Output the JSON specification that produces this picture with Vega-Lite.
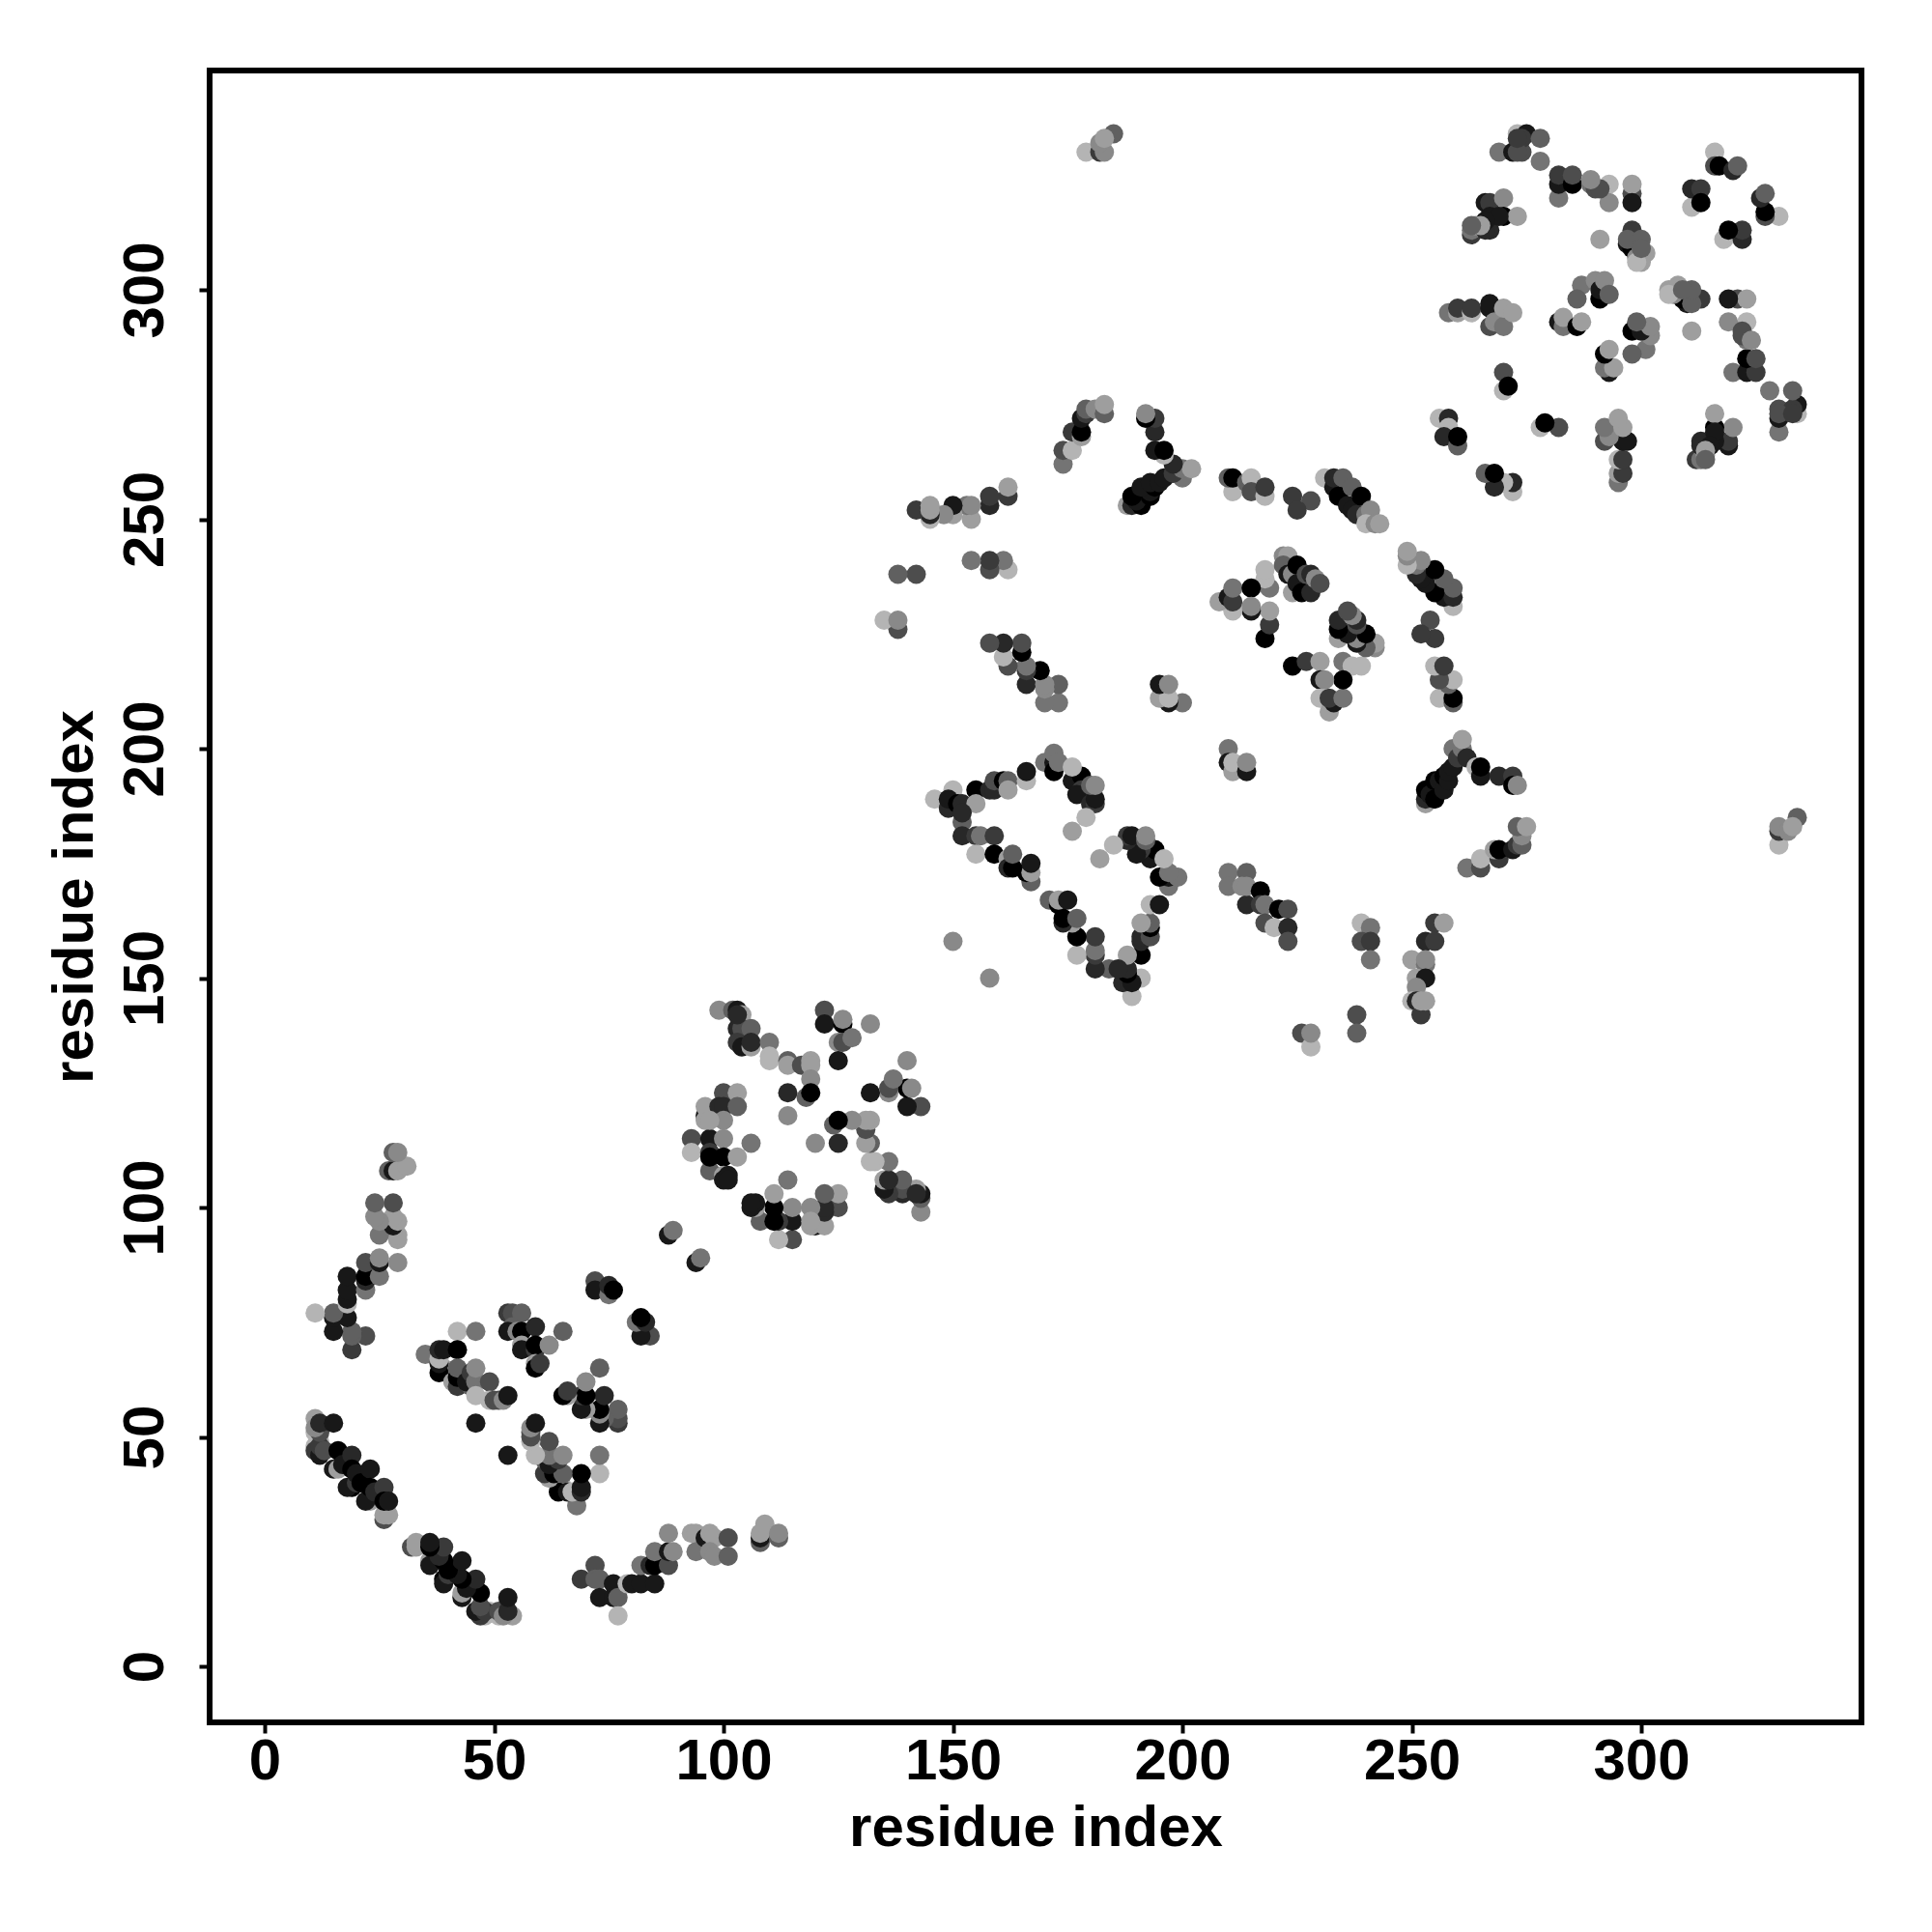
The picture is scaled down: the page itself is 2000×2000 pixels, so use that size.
{"$schema":"https://vega.github.io/schema/vega-lite/v6.json","width":1710,"height":1710,"autosize":{"type":"none"},"padding":{"left":217,"top":73,"right":72,"bottom":217},"background":"white","view":{"stroke":"#000","strokeWidth":6},"config":{"axis":{"grid":false,"domain":false,"tickColor":"#000","tickWidth":4,"tickSize":11,"labelColor":"#000","titleColor":"#000","labelFont":"Liberation Sans","titleFont":"Liberation Sans","labelFontWeight":"bold","titleFontWeight":"bold","labelFontSize":60,"titleFontSize":60}},"data":{"values":[
{"i":11,"j":54,"d":8},{"i":54,"j":11,"d":8},{"i":11,"j":51,"d":9},{"i":51,"j":11,"d":9},{"i":12,"j":49,"d":9},{"i":49,"j":12,"d":9},{"i":11,"j":48,"d":9},{"i":48,"j":11,"d":9},{"i":11,"j":47,"d":3},{"i":47,"j":11,"d":3},{"i":12,"j":46,"d":1},{"i":46,"j":12,"d":1},{"i":12,"j":48,"d":3},{"i":48,"j":12,"d":3},{"i":13,"j":47,"d":4},{"i":47,"j":13,"d":4},{"i":12,"j":51,"d":4},{"i":51,"j":12,"d":4},{"i":11,"j":52,"d":7},{"i":52,"j":11,"d":7},{"i":12,"j":53,"d":2},{"i":53,"j":12,"d":2},{"i":15,"j":53,"d":1},{"i":53,"j":15,"d":1},{"i":16,"j":47,"d":0},{"i":47,"j":16,"d":0},{"i":15,"j":43,"d":1},{"i":43,"j":15,"d":1},{"i":16,"j":43,"d":8},{"i":43,"j":16,"d":8},{"i":17,"j":44,"d":1},{"i":44,"j":17,"d":1},{"i":19,"j":46,"d":2},{"i":46,"j":19,"d":2},{"i":19,"j":39,"d":0},{"i":39,"j":19,"d":0},{"i":18,"j":39,"d":1},{"i":39,"j":18,"d":1},{"i":20,"j":40,"d":3},{"i":40,"j":20,"d":3},{"i":19,"j":43,"d":0},{"i":43,"j":19,"d":0},{"i":20,"j":42,"d":1},{"i":42,"j":20,"d":1},{"i":21,"j":40,"d":0},{"i":40,"j":21,"d":0},{"i":23,"j":43,"d":1},{"i":43,"j":23,"d":1},{"i":23,"j":36,"d":8},{"i":36,"j":23,"d":8},{"i":22,"j":36,"d":1},{"i":36,"j":22,"d":1},{"i":23,"j":39,"d":0},{"i":39,"j":23,"d":0},{"i":24,"j":38,"d":2},{"i":38,"j":24,"d":2},{"i":26,"j":39,"d":3},{"i":39,"j":26,"d":3},{"i":26,"j":32,"d":4},{"i":32,"j":26,"d":4},{"i":26,"j":33,"d":8},{"i":33,"j":26,"d":8},{"i":27,"j":33,"d":8},{"i":33,"j":27,"d":8},{"i":26,"j":36,"d":0},{"i":36,"j":26,"d":0},{"i":27,"j":36,"d":1},{"i":36,"j":27,"d":1},
{"i":22,"j":72,"d":4},{"i":72,"j":22,"d":4},{"i":19,"j":69,"d":3},{"i":69,"j":19,"d":3},{"i":19,"j":72,"d":5},{"i":72,"j":19,"d":5},{"i":19,"j":73,"d":5},{"i":73,"j":19,"d":5},{"i":18,"j":76,"d":1},{"i":76,"j":18,"d":1},{"i":15,"j":73,"d":1},{"i":73,"j":15,"d":1},{"i":15,"j":76,"d":1},{"i":76,"j":15,"d":1},{"i":15,"j":77,"d":5},{"i":77,"j":15,"d":5},{"i":11,"j":77,"d":9},{"i":77,"j":11,"d":9},{"i":18,"j":79,"d":9},{"i":79,"j":18,"d":9},{"i":18,"j":80,"d":1},{"i":80,"j":18,"d":1},{"i":18,"j":82,"d":1},{"i":82,"j":18,"d":1},{"i":18,"j":85,"d":1},{"i":85,"j":18,"d":1},{"i":22,"j":82,"d":6},{"i":82,"j":22,"d":6},{"i":22,"j":84,"d":2},{"i":84,"j":22,"d":2},{"i":22,"j":85,"d":0},{"i":85,"j":22,"d":0},{"i":22,"j":88,"d":4},{"i":88,"j":22,"d":4},{"i":25,"j":85,"d":6},{"i":85,"j":25,"d":6},{"i":25,"j":88,"d":1},{"i":88,"j":25,"d":1},{"i":25,"j":89,"d":7},{"i":89,"j":25,"d":7},{"i":29,"j":88,"d":7},{"i":88,"j":29,"d":7},{"i":29,"j":93,"d":8},{"i":93,"j":29,"d":8},{"i":29,"j":94,"d":8},{"i":94,"j":29,"d":8},{"i":25,"j":94,"d":6},{"i":94,"j":25,"d":6},{"i":28,"j":96,"d":1},{"i":96,"j":28,"d":1},{"i":29,"j":97,"d":8},{"i":97,"j":29,"d":8},{"i":28,"j":98,"d":8},{"i":98,"j":28,"d":8},{"i":25,"j":97,"d":7},{"i":97,"j":25,"d":7},{"i":24,"j":98,"d":7},{"i":98,"j":24,"d":7},{"i":28,"j":101,"d":4},{"i":101,"j":28,"d":4},{"i":24,"j":101,"d":5},{"i":101,"j":24,"d":5},{"i":27,"j":108,"d":5},{"i":108,"j":27,"d":5},{"i":28,"j":108,"d":1},{"i":108,"j":28,"d":1},{"i":29,"j":108,"d":8},{"i":108,"j":29,"d":8},{"i":31,"j":109,"d":8},{"i":109,"j":31,"d":8},{"i":28,"j":112,"d":5},{"i":112,"j":28,"d":5},{"i":29,"j":112,"d":7},{"i":112,"j":29,"d":7},
{"i":42,"j":73,"d":9},{"i":73,"j":42,"d":9},{"i":46,"j":73,"d":6},{"i":73,"j":46,"d":6},{"i":35,"j":68,"d":6},{"i":68,"j":35,"d":6},{"i":39,"j":65,"d":9},{"i":65,"j":39,"d":9},{"i":38,"j":64,"d":0},{"i":64,"j":38,"d":0},{"i":38,"j":66,"d":1},{"i":66,"j":38,"d":1},{"i":38,"j":67,"d":9},{"i":67,"j":38,"d":9},{"i":38,"j":69,"d":2},{"i":69,"j":38,"d":2},{"i":39,"j":69,"d":1},{"i":69,"j":39,"d":1},{"i":42,"j":69,"d":0},{"i":69,"j":42,"d":0},{"i":41,"j":62,"d":8},{"i":62,"j":41,"d":8},{"i":42,"j":61,"d":3},{"i":61,"j":42,"d":3},{"i":42,"j":63,"d":0},{"i":63,"j":42,"d":0},{"i":42,"j":65,"d":5},{"i":65,"j":42,"d":5},{"i":45,"j":61,"d":5},{"i":61,"j":45,"d":5},{"i":44,"j":62,"d":1},{"i":62,"j":44,"d":1},{"i":45,"j":64,"d":3},{"i":64,"j":45,"d":3},{"i":46,"j":62,"d":6},{"i":62,"j":46,"d":6},{"i":46,"j":65,"d":7},{"i":65,"j":46,"d":7},{"i":49,"j":62,"d":4},{"i":62,"j":49,"d":4},{"i":46,"j":59,"d":9},{"i":59,"j":46,"d":9},{"i":49,"j":58,"d":9},{"i":58,"j":49,"d":9},{"i":50,"j":58,"d":4},{"i":58,"j":50,"d":4},{"i":51,"j":58,"d":4},{"i":58,"j":51,"d":4},{"i":52,"j":58,"d":7},{"i":58,"j":52,"d":7},{"i":53,"j":59,"d":1},{"i":59,"j":53,"d":1},{"i":46,"j":53,"d":1},{"i":53,"j":46,"d":1},
{"i":53,"j":77,"d":3},{"i":77,"j":53,"d":3},{"i":54,"j":77,"d":4},{"i":77,"j":54,"d":4},{"i":56,"j":77,"d":5},{"i":77,"j":56,"d":5},{"i":54,"j":74,"d":5},{"i":74,"j":54,"d":5},{"i":53,"j":73,"d":1},{"i":73,"j":53,"d":1},{"i":55,"j":73,"d":7},{"i":73,"j":55,"d":7},{"i":56,"j":73,"d":0},{"i":73,"j":56,"d":0},{"i":59,"j":74,"d":2},{"i":74,"j":59,"d":2},{"i":65,"j":73,"d":5},{"i":73,"j":65,"d":5},{"i":56,"j":70,"d":8},{"i":70,"j":56,"d":8},{"i":56,"j":69,"d":1},{"i":69,"j":56,"d":1},{"i":59,"j":69,"d":3},{"i":69,"j":59,"d":3},{"i":59,"j":70,"d":0},{"i":70,"j":59,"d":0},{"i":62,"j":70,"d":7},{"i":70,"j":62,"d":7},{"i":59,"j":66,"d":8},{"i":66,"j":59,"d":8},{"i":59,"j":65,"d":0},{"i":65,"j":59,"d":0},{"i":60,"j":66,"d":3},{"i":66,"j":60,"d":3},
{"i":72,"j":84,"d":4},{"i":84,"j":72,"d":4},{"i":72,"j":82,"d":1},{"i":82,"j":72,"d":1},{"i":75,"j":81,"d":6},{"i":81,"j":75,"d":6},{"i":75,"j":83,"d":2},{"i":83,"j":75,"d":2},{"i":76,"j":82,"d":0},{"i":82,"j":76,"d":0},{"i":88,"j":94,"d":1},{"i":94,"j":88,"d":1},{"i":89,"j":95,"d":6},{"i":95,"j":89,"d":6},
{"i":99,"j":143,"d":7},{"i":143,"j":99,"d":7},{"i":102,"j":143,"d":5},{"i":143,"j":102,"d":5},{"i":103,"j":143,"d":1},{"i":143,"j":103,"d":1},{"i":104,"j":142,"d":8},{"i":142,"j":104,"d":8},{"i":103,"j":139,"d":2},{"i":139,"j":103,"d":2},{"i":104,"j":139,"d":4},{"i":139,"j":104,"d":4},{"i":106,"j":139,"d":5},{"i":139,"j":106,"d":5},{"i":103,"j":136,"d":3},{"i":136,"j":103,"d":3},{"i":104,"j":135,"d":1},{"i":135,"j":104,"d":1},{"i":106,"j":135,"d":8},{"i":135,"j":106,"d":8},{"i":106,"j":136,"d":2},{"i":136,"j":106,"d":2},{"i":110,"j":136,"d":6},{"i":136,"j":110,"d":6},{"i":110,"j":133,"d":9},{"i":133,"j":110,"d":9},{"i":110,"j":132,"d":9},{"i":132,"j":110,"d":9},{"i":114,"j":132,"d":5},{"i":132,"j":114,"d":5},{"i":114,"j":131,"d":8},{"i":131,"j":114,"d":8},{"i":117,"j":131,"d":4},{"i":131,"j":117,"d":4},{"i":119,"j":132,"d":8},{"i":132,"j":119,"d":8},{"i":119,"j":131,"d":8},{"i":131,"j":119,"d":8},{"i":119,"j":128,"d":7},{"i":128,"j":119,"d":7},{"i":114,"j":125,"d":2},{"i":125,"j":114,"d":2},{"i":118,"j":124,"d":5},{"i":124,"j":118,"d":5},{"i":119,"j":125,"d":0},{"i":125,"j":119,"d":0},{"i":114,"j":120,"d":7},{"i":120,"j":114,"d":7},{"i":100,"j":125,"d":4},{"i":125,"j":100,"d":4},{"i":103,"j":125,"d":8},{"i":125,"j":103,"d":8},{"i":96,"j":120,"d":1},{"i":120,"j":96,"d":1},{"i":96,"j":119,"d":8},{"i":119,"j":96,"d":8},{"i":96,"j":122,"d":8},{"i":122,"j":96,"d":8},{"i":99,"j":122,"d":2},{"i":122,"j":99,"d":2},{"i":100,"j":122,"d":2},{"i":122,"j":100,"d":2},{"i":103,"j":122,"d":5},{"i":122,"j":103,"d":5},{"i":100,"j":119,"d":7},{"i":119,"j":100,"d":7},{"i":93,"j":115,"d":4},{"i":115,"j":93,"d":4},{"i":97,"j":115,"d":1},{"i":115,"j":97,"d":1},{"i":100,"j":115,"d":7},{"i":115,"j":100,"d":7},{"i":106,"j":114,"d":6},{"i":114,"j":106,"d":6},{"i":93,"j":112,"d":9},{"i":112,"j":93,"d":9},{"i":97,"j":112,"d":3},{"i":112,"j":97,"d":3},{"i":100,"j":111,"d":0},{"i":111,"j":100,"d":0},{"i":103,"j":111,"d":8},{"i":111,"j":103,"d":8},{"i":97,"j":108,"d":5},{"i":108,"j":97,"d":5},{"i":100,"j":107,"d":8},{"i":107,"j":100,"d":8},{"i":100,"j":106,"d":1},{"i":106,"j":100,"d":1},{"i":101,"j":107,"d":1},{"i":107,"j":101,"d":1},{"i":101,"j":106,"d":1},{"i":106,"j":101,"d":1},
{"i":122,"j":143,"d":4},{"i":143,"j":122,"d":4},{"i":122,"j":140,"d":1},{"i":140,"j":122,"d":1},{"i":126,"j":140,"d":0},{"i":140,"j":126,"d":0},{"i":126,"j":141,"d":7},{"i":141,"j":126,"d":7},{"i":132,"j":140,"d":7},{"i":140,"j":132,"d":7},{"i":125,"j":136,"d":7},{"i":136,"j":125,"d":7},{"i":126,"j":136,"d":4},{"i":136,"j":126,"d":4},{"i":128,"j":137,"d":6},{"i":137,"j":128,"d":6},{"i":125,"j":132,"d":1},{"i":132,"j":125,"d":1},{"i":103,"j":142,"d":2},{"i":142,"j":103,"d":2},{"i":97,"j":111,"d":0},{"i":111,"j":97,"d":0},{"i":97,"j":119,"d":8},{"i":119,"j":97,"d":8},
{"i":146,"j":189,"d":9},{"i":189,"j":146,"d":9},{"i":150,"j":191,"d":9},{"i":191,"j":150,"d":9},{"i":149,"j":187,"d":2},{"i":187,"j":149,"d":2},{"i":149,"j":189,"d":1},{"i":189,"j":149,"d":1},{"i":151,"j":188,"d":0},{"i":188,"j":151,"d":0},{"i":152,"j":188,"d":2},{"i":188,"j":152,"d":2},{"i":155,"j":191,"d":0},{"i":191,"j":155,"d":0},{"i":155,"j":188,"d":8},{"i":188,"j":155,"d":8},{"i":158,"j":191,"d":2},{"i":191,"j":158,"d":2},{"i":159,"j":191,"d":2},{"i":191,"j":159,"d":2},{"i":159,"j":193,"d":4},{"i":193,"j":159,"d":4},{"i":161,"j":193,"d":0},{"i":193,"j":161,"d":0},{"i":162,"j":193,"d":5},{"i":193,"j":162,"d":5},{"i":162,"j":191,"d":8},{"i":191,"j":162,"d":8},{"i":166,"j":193,"d":9},{"i":193,"j":166,"d":9},{"i":166,"j":195,"d":1},{"i":195,"j":166,"d":1},{"i":152,"j":184,"d":5},{"i":184,"j":152,"d":5},{"i":152,"j":186,"d":2},{"i":186,"j":152,"d":2},{"i":152,"j":181,"d":2},{"i":181,"j":152,"d":2},{"i":155,"j":181,"d":3},{"i":181,"j":155,"d":3},{"i":156,"j":181,"d":6},{"i":181,"j":156,"d":6},{"i":159,"j":181,"d":3},{"i":181,"j":159,"d":3},{"i":155,"j":177,"d":9},{"i":177,"j":155,"d":9},{"i":159,"j":177,"d":0},{"i":177,"j":159,"d":0},{"i":162,"j":176,"d":8},{"i":176,"j":162,"d":8},{"i":162,"j":174,"d":2},{"i":174,"j":162,"d":2},{"i":163,"j":174,"d":0},{"i":174,"j":163,"d":0},{"i":163,"j":177,"d":5},{"i":177,"j":163,"d":5},{"i":167,"j":171,"d":5},{"i":171,"j":167,"d":5},{"i":166,"j":173,"d":0},{"i":173,"j":166,"d":0},{"i":167,"j":173,"d":8},{"i":173,"j":167,"d":8},{"i":167,"j":175,"d":1},{"i":175,"j":167,"d":1},{"i":150,"j":158,"d":7},{"i":158,"j":150,"d":7},
{"i":170,"j":197,"d":6},{"i":197,"j":170,"d":6},{"i":172,"j":197,"d":1},{"i":197,"j":172,"d":1},{"i":172,"j":195,"d":0},{"i":195,"j":172,"d":0},{"i":172,"j":199,"d":6},{"i":199,"j":172,"d":6},{"i":173,"j":197,"d":6},{"i":197,"j":173,"d":6},{"i":176,"j":193,"d":1},{"i":193,"j":176,"d":1},{"i":178,"j":194,"d":0},{"i":194,"j":178,"d":0},{"i":176,"j":196,"d":9},{"i":196,"j":176,"d":9},{"i":178,"j":191,"d":3},{"i":191,"j":178,"d":3},{"i":177,"j":190,"d":1},{"i":190,"j":177,"d":1},{"i":180,"j":188,"d":2},{"i":188,"j":180,"d":2},{"i":181,"j":188,"d":3},{"i":188,"j":181,"d":3},{"i":181,"j":189,"d":1},{"i":189,"j":181,"d":1},{"i":180,"j":192,"d":5},{"i":192,"j":180,"d":5},{"i":181,"j":192,"d":7},{"i":192,"j":181,"d":7},{"i":179,"j":185,"d":9},{"i":185,"j":179,"d":9},{"i":176,"j":182,"d":8},{"i":182,"j":176,"d":8},
{"i":179,"j":330,"d":9},{"i":330,"j":179,"d":9},{"i":182,"j":330,"d":3},{"i":330,"j":182,"d":3},{"i":183,"j":330,"d":7},{"i":330,"j":183,"d":7},{"i":182,"j":332,"d":7},{"i":332,"j":182,"d":7},{"i":185,"j":334,"d":5},{"i":334,"j":185,"d":5},{"i":183,"j":333,"d":8},{"i":333,"j":183,"d":8},
{"i":200,"j":210,"d":6},{"i":210,"j":200,"d":6},{"i":197,"j":210,"d":1},{"i":210,"j":197,"d":1},{"i":195,"j":211,"d":8},{"i":211,"j":195,"d":8},{"i":197,"j":211,"d":9},{"i":211,"j":197,"d":9},{"i":195,"j":214,"d":1},{"i":214,"j":195,"d":1},{"i":197,"j":214,"d":7},{"i":214,"j":197,"d":7},
{"i":173,"j":210,"d":6},{"i":210,"j":173,"d":6},{"i":173,"j":214,"d":5},{"i":214,"j":173,"d":5},{"i":170,"j":210,"d":6},{"i":210,"j":170,"d":6},{"i":166,"j":214,"d":2},{"i":214,"j":166,"d":2},{"i":170,"j":213,"d":7},{"i":213,"j":170,"d":7},{"i":170,"j":214,"d":7},{"i":214,"j":170,"d":7},{"i":169,"j":217,"d":0},{"i":217,"j":169,"d":0},{"i":166,"j":217,"d":3},{"i":217,"j":166,"d":3},{"i":166,"j":218,"d":6},{"i":218,"j":166,"d":6},{"i":162,"j":218,"d":4},{"i":218,"j":162,"d":4},{"i":161,"j":220,"d":9},{"i":220,"j":161,"d":9},{"i":165,"j":221,"d":0},{"i":221,"j":165,"d":0},{"i":165,"j":223,"d":4},{"i":223,"j":165,"d":4},{"i":161,"j":223,"d":2},{"i":223,"j":161,"d":2},{"i":158,"j":223,"d":4},{"i":223,"j":158,"d":4},
{"i":162,"j":239,"d":9},{"i":239,"j":162,"d":9},{"i":161,"j":241,"d":6},{"i":241,"j":161,"d":6},{"i":158,"j":239,"d":4},{"i":239,"j":158,"d":4},{"i":158,"j":241,"d":3},{"i":241,"j":158,"d":3},{"i":154,"j":241,"d":6},{"i":241,"j":154,"d":6},
{"i":162,"j":255,"d":3},{"i":255,"j":162,"d":3},{"i":162,"j":257,"d":8},{"i":257,"j":162,"d":8},{"i":158,"j":253,"d":2},{"i":253,"j":158,"d":2},{"i":158,"j":255,"d":3},{"i":255,"j":158,"d":3},{"i":154,"j":250,"d":8},{"i":250,"j":154,"d":8},{"i":153,"j":253,"d":6},{"i":253,"j":153,"d":6},{"i":154,"j":253,"d":7},{"i":253,"j":154,"d":7},{"i":150,"j":251,"d":8},{"i":251,"j":150,"d":8},{"i":150,"j":253,"d":1},{"i":253,"j":150,"d":1},{"i":148,"j":251,"d":7},{"i":251,"j":148,"d":7},{"i":145,"j":250,"d":9},{"i":250,"j":145,"d":9},{"i":145,"j":251,"d":2},{"i":251,"j":145,"d":2},{"i":142,"j":252,"d":3},{"i":252,"j":142,"d":3},{"i":145,"j":252,"d":8},{"i":252,"j":145,"d":8},{"i":145,"j":253,"d":8},{"i":253,"j":145,"d":8},
{"i":142,"j":238,"d":4},{"i":238,"j":142,"d":4},{"i":138,"j":238,"d":5},{"i":238,"j":138,"d":5},{"i":138,"j":226,"d":4},{"i":226,"j":138,"d":4},{"i":135,"j":228,"d":9},{"i":228,"j":135,"d":9},{"i":138,"j":228,"d":7},{"i":228,"j":138,"d":7},
{"i":188,"j":253,"d":8},{"i":253,"j":188,"d":8},{"i":189,"j":253,"d":2},{"i":253,"j":189,"d":2},{"i":191,"j":253,"d":0},{"i":253,"j":191,"d":0},{"i":190,"j":254,"d":1},{"i":254,"j":190,"d":1},{"i":189,"j":255,"d":0},{"i":255,"j":189,"d":0},{"i":193,"j":255,"d":0},{"i":255,"j":193,"d":0},{"i":193,"j":256,"d":1},{"i":256,"j":193,"d":1},{"i":191,"j":257,"d":1},{"i":257,"j":191,"d":1},{"i":194,"j":257,"d":0},{"i":257,"j":194,"d":0},{"i":193,"j":258,"d":1},{"i":258,"j":193,"d":1},{"i":195,"j":258,"d":1},{"i":258,"j":195,"d":1},{"i":196,"j":259,"d":1},{"i":259,"j":196,"d":1},{"i":200,"j":259,"d":6},{"i":259,"j":200,"d":6},{"i":198,"j":260,"d":3},{"i":260,"j":198,"d":3},{"i":200,"j":261,"d":6},{"i":261,"j":200,"d":6},{"i":202,"j":261,"d":8},{"i":261,"j":202,"d":8},{"i":198,"j":262,"d":2},{"i":262,"j":198,"d":2},{"i":196,"j":264,"d":9},{"i":264,"j":196,"d":9},{"i":194,"j":265,"d":1},{"i":265,"j":194,"d":1},{"i":196,"j":265,"d":0},{"i":265,"j":196,"d":0},{"i":194,"j":269,"d":2},{"i":269,"j":194,"d":2},{"i":194,"j":272,"d":3},{"i":272,"j":194,"d":3},{"i":192,"j":272,"d":0},{"i":272,"j":192,"d":0},{"i":192,"j":273,"d":7},{"i":273,"j":192,"d":7},
{"i":174,"j":262,"d":6},{"i":262,"j":174,"d":6},{"i":174,"j":265,"d":4},{"i":265,"j":174,"d":4},{"i":176,"j":265,"d":9},{"i":265,"j":176,"d":9},{"i":176,"j":269,"d":3},{"i":269,"j":176,"d":3},{"i":178,"j":268,"d":8},{"i":268,"j":178,"d":8},{"i":178,"j":269,"d":0},{"i":269,"j":178,"d":0},{"i":178,"j":272,"d":1},{"i":272,"j":178,"d":1},{"i":179,"j":273,"d":3},{"i":273,"j":179,"d":3},{"i":179,"j":274,"d":5},{"i":274,"j":179,"d":5},{"i":181,"j":274,"d":7},{"i":274,"j":181,"d":7},{"i":183,"j":273,"d":5},{"i":273,"j":183,"d":5},{"i":183,"j":275,"d":8},{"i":275,"j":183,"d":8},
{"i":211,"j":256,"d":9},{"i":256,"j":211,"d":9},{"i":210,"j":259,"d":5},{"i":259,"j":210,"d":5},{"i":211,"j":259,"d":0},{"i":259,"j":211,"d":0},{"i":214,"j":258,"d":5},{"i":258,"j":214,"d":5},{"i":215,"j":259,"d":9},{"i":259,"j":215,"d":9},{"i":215,"j":256,"d":4},{"i":256,"j":215,"d":4},{"i":218,"j":255,"d":9},{"i":255,"j":218,"d":9},{"i":218,"j":257,"d":3},{"i":257,"j":218,"d":3},{"i":224,"j":255,"d":3},{"i":255,"j":224,"d":3},{"i":228,"j":254,"d":4},{"i":254,"j":228,"d":4},{"i":225,"j":252,"d":3},{"i":252,"j":225,"d":3},
{"i":231,"j":259,"d":9},{"i":259,"j":231,"d":9},{"i":233,"j":257,"d":1},{"i":257,"j":233,"d":1},{"i":233,"j":259,"d":2},{"i":259,"j":233,"d":2},{"i":235,"j":259,"d":5},{"i":259,"j":235,"d":5},{"i":234,"j":255,"d":0},{"i":255,"j":234,"d":0},{"i":236,"j":253,"d":1},{"i":253,"j":236,"d":1},{"i":237,"j":252,"d":1},{"i":252,"j":237,"d":1},{"i":237,"j":257,"d":5},{"i":257,"j":237,"d":5},{"i":239,"j":255,"d":0},{"i":255,"j":239,"d":0},{"i":238,"j":251,"d":2},{"i":251,"j":238,"d":2},{"i":240,"j":251,"d":6},{"i":251,"j":240,"d":6},{"i":241,"j":252,"d":7},{"i":252,"j":241,"d":7},{"i":240,"j":249,"d":9},{"i":249,"j":240,"d":9},{"i":242,"j":249,"d":7},{"i":249,"j":242,"d":7},{"i":243,"j":249,"d":8},{"i":249,"j":243,"d":8},
{"i":218,"j":224,"d":0},{"i":224,"j":218,"d":0},{"i":219,"j":227,"d":3},{"i":227,"j":219,"d":3},{"i":219,"j":230,"d":8},{"i":230,"j":219,"d":8},{"i":219,"j":235,"d":6},{"i":235,"j":219,"d":6},{"i":218,"j":237,"d":9},{"i":237,"j":218,"d":9},{"i":218,"j":239,"d":9},{"i":239,"j":218,"d":9},{"i":215,"j":230,"d":1},{"i":230,"j":215,"d":1},{"i":211,"j":230,"d":9},{"i":230,"j":211,"d":9},{"i":208,"j":232,"d":8},{"i":232,"j":208,"d":8},{"i":210,"j":233,"d":1},{"i":233,"j":210,"d":1},{"i":211,"j":232,"d":3},{"i":232,"j":211,"d":3},{"i":211,"j":235,"d":6},{"i":235,"j":211,"d":6},{"i":215,"j":235,"d":0},{"i":235,"j":215,"d":0},{"i":215,"j":231,"d":7},{"i":231,"j":215,"d":7},
{"i":222,"j":242,"d":7},{"i":242,"j":222,"d":7},{"i":223,"j":242,"d":8},{"i":242,"j":223,"d":8},{"i":224,"j":234,"d":8},{"i":234,"j":224,"d":8},{"i":222,"j":240,"d":5},{"i":240,"j":222,"d":5},{"i":223,"j":238,"d":1},{"i":238,"j":223,"d":1},{"i":224,"j":238,"d":7},{"i":238,"j":224,"d":7},{"i":225,"j":240,"d":0},{"i":240,"j":225,"d":0},{"i":225,"j":236,"d":1},{"i":236,"j":225,"d":1},{"i":226,"j":234,"d":0},{"i":234,"j":226,"d":0},{"i":227,"j":238,"d":4},{"i":238,"j":227,"d":4},{"i":228,"j":238,"d":2},{"i":238,"j":228,"d":2},{"i":228,"j":234,"d":2},{"i":234,"j":228,"d":2},{"i":229,"j":237,"d":7},{"i":237,"j":229,"d":7},{"i":230,"j":236,"d":4},{"i":236,"j":230,"d":4},
{"i":269,"j":330,"d":6},{"i":330,"j":269,"d":6},{"i":272,"j":330,"d":1},{"i":330,"j":272,"d":1},{"i":273,"j":334,"d":9},{"i":334,"j":273,"d":9},{"i":274,"j":330,"d":4},{"i":330,"j":274,"d":4},{"i":275,"j":334,"d":1},{"i":334,"j":275,"d":1},{"i":274,"j":333,"d":3},{"i":333,"j":274,"d":3},{"i":278,"j":333,"d":5},{"i":333,"j":278,"d":5},{"i":278,"j":328,"d":6},{"i":328,"j":278,"d":6},{"i":273,"j":330,"d":4},{"i":330,"j":273,"d":4},{"i":273,"j":333,"d":3},{"i":333,"j":273,"d":3},
{"i":282,"j":320,"d":6},{"i":320,"j":282,"d":6},{"i":282,"j":323,"d":1},{"i":323,"j":282,"d":1},{"i":282,"j":325,"d":3},{"i":325,"j":282,"d":3},{"i":285,"j":323,"d":0},{"i":323,"j":285,"d":0},{"i":285,"j":325,"d":4},{"i":325,"j":285,"d":4},{"i":289,"j":323,"d":6},{"i":323,"j":289,"d":6},{"i":290,"j":322,"d":4},{"i":322,"j":290,"d":4},{"i":293,"j":323,"d":9},{"i":323,"j":293,"d":9},{"i":293,"j":319,"d":7},{"i":319,"j":293,"d":7},{"i":298,"j":321,"d":4},{"i":321,"j":298,"d":4},{"i":298,"j":323,"d":8},{"i":323,"j":298,"d":8},{"i":298,"j":319,"d":1},{"i":319,"j":298,"d":1},{"i":291,"j":322,"d":4},{"i":322,"j":291,"d":4},{"i":289,"j":324,"d":7},{"i":324,"j":289,"d":7},
{"i":266,"j":319,"d":1},{"i":319,"j":266,"d":1},{"i":267,"j":319,"d":3},{"i":319,"j":267,"d":3},{"i":270,"j":320,"d":7},{"i":320,"j":270,"d":7},{"i":270,"j":316,"d":0},{"i":316,"j":270,"d":0},{"i":267,"j":316,"d":1},{"i":316,"j":267,"d":1},{"i":273,"j":316,"d":8},{"i":316,"j":273,"d":8},{"i":263,"j":312,"d":3},{"i":312,"j":263,"d":3},{"i":263,"j":313,"d":6},{"i":313,"j":263,"d":6},{"i":264,"j":314,"d":8},{"i":314,"j":264,"d":8},{"i":267,"j":313,"d":2},{"i":313,"j":267,"d":2},{"i":269,"j":316,"d":1},{"i":316,"j":269,"d":1},{"i":266,"j":313,"d":2},{"i":313,"j":266,"d":2},{"i":266,"j":315,"d":1},{"i":315,"j":266,"d":1},{"i":265,"j":314,"d":8},{"i":314,"j":265,"d":8},{"i":263,"j":314,"d":5},{"i":314,"j":263,"d":5},
{"i":291,"j":311,"d":8},{"i":311,"j":291,"d":8},{"i":297,"j":310,"d":1},{"i":310,"j":297,"d":1},{"i":298,"j":309,"d":0},{"i":309,"j":298,"d":0},{"i":298,"j":313,"d":3},{"i":313,"j":298,"d":3},{"i":297,"j":311,"d":5},{"i":311,"j":297,"d":5},{"i":300,"j":311,"d":5},{"i":311,"j":300,"d":5},{"i":300,"j":306,"d":8},{"i":306,"j":300,"d":8},{"i":299,"j":307,"d":7},{"i":307,"j":299,"d":7},{"i":301,"j":308,"d":8},{"i":308,"j":301,"d":8},{"i":299,"j":306,"d":9},{"i":306,"j":299,"d":9},{"i":300,"j":309,"d":5},{"i":309,"j":300,"d":5},
{"i":287,"j":301,"d":6},{"i":301,"j":287,"d":6},{"i":286,"j":298,"d":5},{"i":298,"j":286,"d":5},{"i":290,"j":302,"d":7},{"i":302,"j":290,"d":7},{"i":291,"j":298,"d":0},{"i":298,"j":291,"d":0},{"i":291,"j":300,"d":1},{"i":300,"j":291,"d":1},{"i":292,"j":302,"d":7},{"i":302,"j":292,"d":7},{"i":293,"j":299,"d":5},{"i":299,"j":293,"d":5},
{"i":258,"j":295,"d":6},{"i":295,"j":258,"d":6},{"i":260,"j":295,"d":8},{"i":295,"j":260,"d":8},{"i":260,"j":296,"d":3},{"i":296,"j":260,"d":3},{"i":263,"j":295,"d":9},{"i":295,"j":263,"d":9},{"i":263,"j":296,"d":3},{"i":296,"j":263,"d":3},{"i":267,"j":292,"d":4},{"i":292,"j":267,"d":4},{"i":267,"j":296,"d":1},{"i":296,"j":267,"d":1},{"i":267,"j":297,"d":1},{"i":297,"j":267,"d":1},{"i":268,"j":293,"d":7},{"i":293,"j":268,"d":7},{"i":270,"j":292,"d":6},{"i":292,"j":270,"d":6},{"i":270,"j":296,"d":8},{"i":296,"j":270,"d":8},{"i":272,"j":295,"d":8},{"i":295,"j":272,"d":8},
{"i":282,"j":293,"d":1},{"i":293,"j":282,"d":1},{"i":283,"j":292,"d":6},{"i":292,"j":283,"d":6},{"i":283,"j":294,"d":8},{"i":294,"j":283,"d":8},{"i":286,"j":292,"d":0},{"i":292,"j":286,"d":0},{"i":287,"j":293,"d":8},{"i":293,"j":287,"d":8},
{"i":270,"j":282,"d":4},{"i":282,"j":270,"d":4},{"i":270,"j":278,"d":9},{"i":278,"j":270,"d":9},{"i":271,"j":279,"d":0},{"i":279,"j":271,"d":0},{"i":256,"j":272,"d":9},{"i":272,"j":256,"d":9},{"i":258,"j":272,"d":2},{"i":272,"j":258,"d":2},{"i":258,"j":270,"d":9},{"i":270,"j":258,"d":9},{"i":257,"j":268,"d":2},{"i":268,"j":257,"d":2},{"i":260,"j":266,"d":5},{"i":266,"j":260,"d":5},{"i":260,"j":268,"d":0},{"i":268,"j":260,"d":0},
{"i":316,"j":330,"d":9},{"i":330,"j":316,"d":9},{"i":316,"j":327,"d":4},{"i":327,"j":316,"d":4},{"i":317,"j":327,"d":0},{"i":327,"j":317,"d":0},{"i":320,"j":326,"d":2},{"i":326,"j":320,"d":2},{"i":321,"j":327,"d":5},{"i":327,"j":321,"d":5},{"i":311,"j":318,"d":9},{"i":318,"j":311,"d":9},{"i":311,"j":322,"d":2},{"i":322,"j":311,"d":2},{"i":313,"j":322,"d":3},{"i":322,"j":313,"d":3},{"i":313,"j":319,"d":0},{"i":319,"j":313,"d":0}
]},"mark":{"type":"point","shape":"circle","filled":true,"opacity":1,"strokeWidth":0,"clip":false},"encoding":{"x":{"field":"i","type":"quantitative","title":"residue index","scale":{"domain":[-12,348],"nice":false,"zero":false},"axis":{"values":[0,50,100,150,200,250,300],"labelPadding":0,"titlePadding":10,"labelBaseline":"top"}},"y":{"field":"j","type":"quantitative","title":"residue index","scale":{"domain":[-12.2,347.8],"nice":false,"zero":false},"axis":{"values":[0,50,100,150,200,250,300],"labelAngle":-90,"labelAlign":"center","labelBaseline":"bottom","labelPadding":25,"titlePadding":12}},"color":{"field":"d","type":"quantitative","legend":null,"scale":{"domain":[0,9],"range":["#000000","#b4b4b4"]}},"size":{"value":400},"order":{"value":null}}}
